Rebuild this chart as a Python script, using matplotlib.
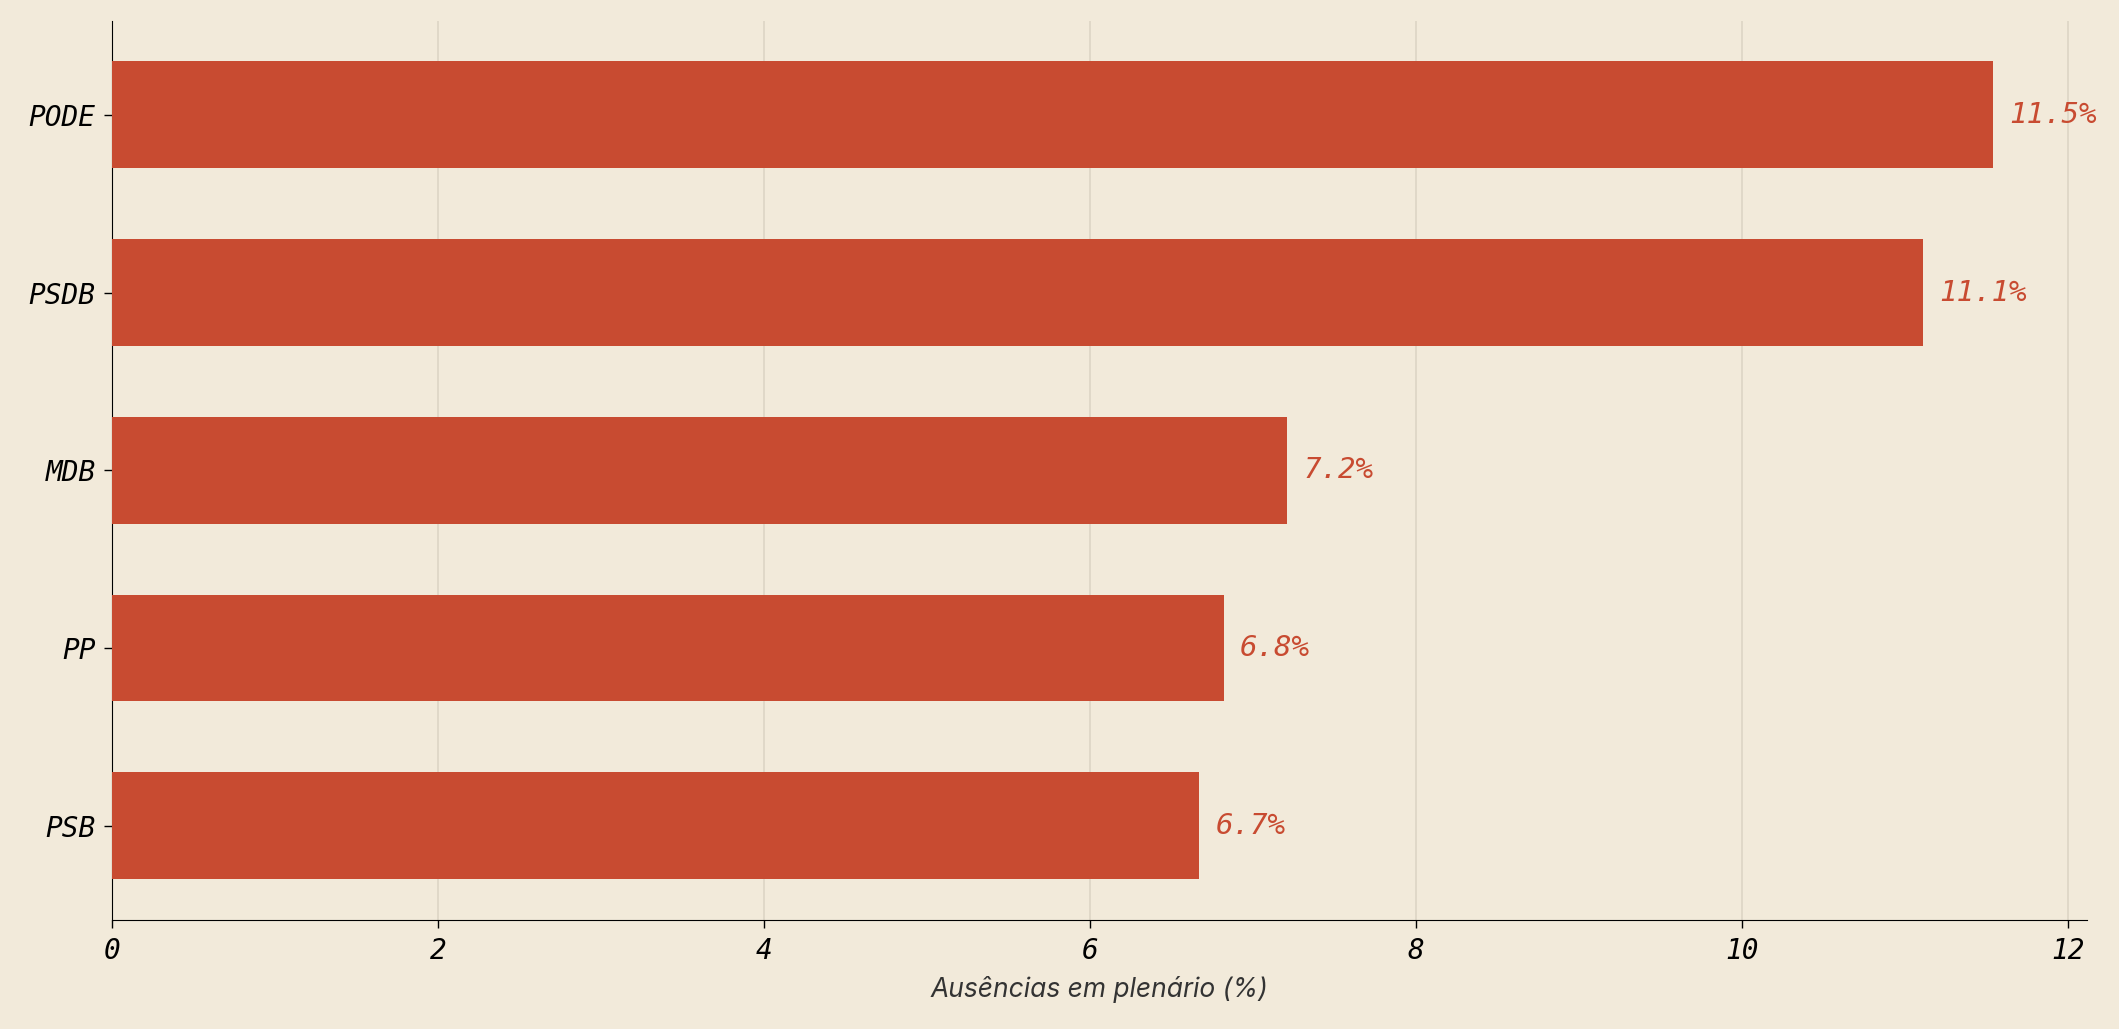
import matplotlib
matplotlib.use("Agg")
import matplotlib.pyplot as plt

parties = ["PODE", "PSDB", "MDB", "PP", "PSB"]
values = [11.54, 11.11, 7.21, 6.82, 6.67]
labels = ["11.5%", "11.1%", "7.2%", "6.8%", "6.7%"]
xticks = [0, 2, 4, 6, 8, 10, 12]

bg = "#F2EADA"
red = "#C84B31"
mono = ["DejaVu Sans Mono"]

fig = plt.figure(figsize=(21.19, 10.29), dpi=100, facecolor=bg)
ax = fig.add_axes([0.053, 0.106, 0.932, 0.874], facecolor=bg)
ypos = list(range(len(parties)))[::-1]
ax.barh(ypos, values, height=0.6, color=red, zorder=3)
for y, v, l in zip(ypos, values, labels):
    ax.text(v + 0.1, y, l, va="center", ha="left", color=red, fontsize=21,
            family=mono, style="italic")
ax.set_yticks(ypos)
ax.set_yticklabels(parties, family=mono, style="italic", fontsize=20)
ax.set_xticks(xticks)
ax.set_xticklabels([str(t) for t in xticks], family=mono, style="italic", fontsize=20)
ax.set_xlim(0, 12.12)
ax.set_ylim(-0.53, 4.53)
ax.grid(axis="x", color="#DDD5C5", linewidth=1.2, zorder=0)
for s in ["top", "right"]:
    ax.spines[s].set_visible(False)
ax.tick_params(length=6, width=1, colors="black", pad=6)
ax.set_xlabel("Ausências em plenário (%)", fontsize=19, style="italic", color="#333333",
              family=["Inter", "DejaVu Sans"], labelpad=8)
fig.savefig("out.png", dpi=100, facecolor=bg)
